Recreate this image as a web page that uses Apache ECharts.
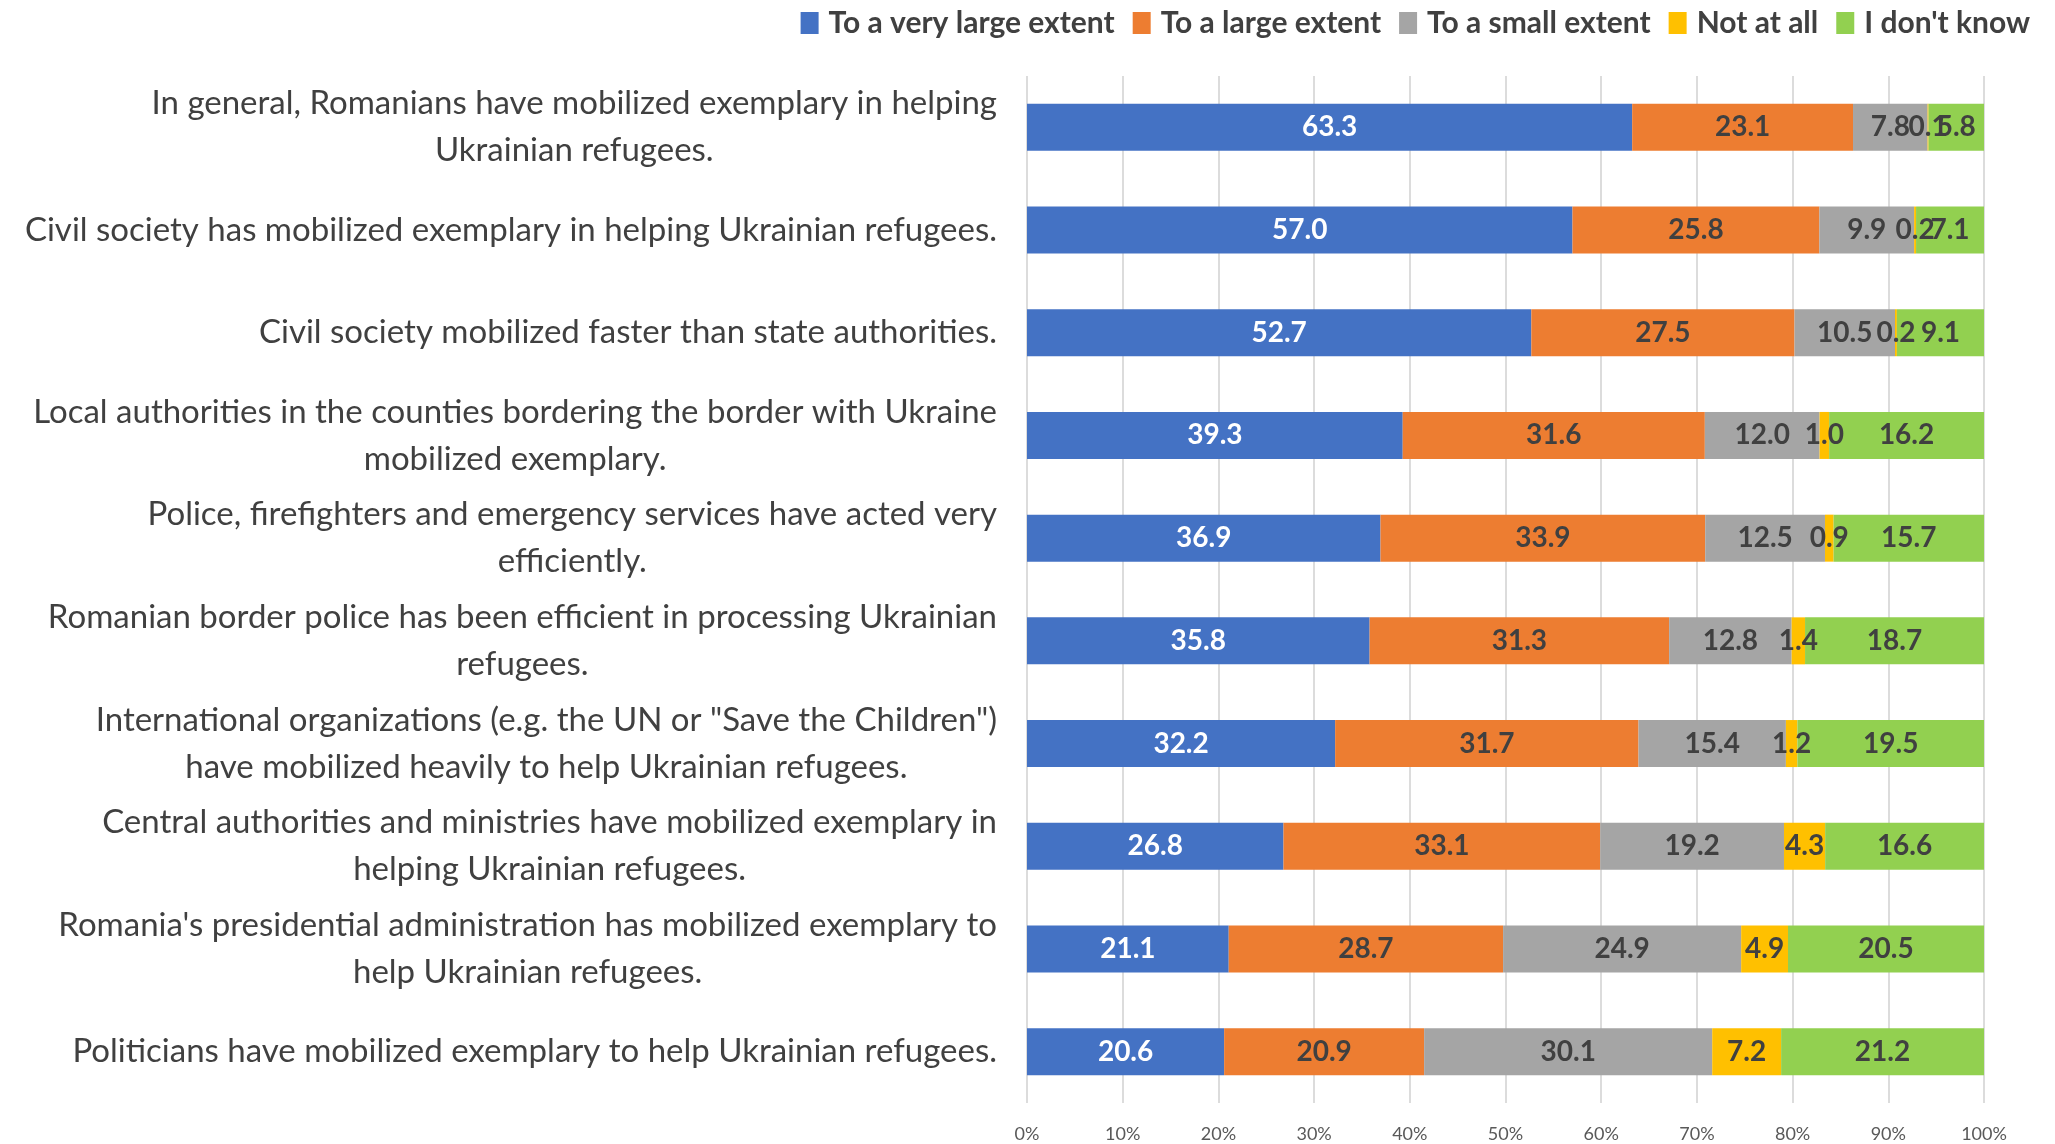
<!DOCTYPE html>
<html>
<head>
<meta charset="utf-8">
<script src="https://cdn.jsdelivr.net/npm/echarts@6/dist/echarts.min.js"></script>
<style>
  html, body { margin: 0; padding: 0; background: #ffffff; }
  #chart { width: 2055px; height: 1144px; }
</style>
</head>
<body>
<div id="chart"></div>
<script>
const categories = [
  "In general, Romanians have mobilized exemplary in helping\nUkrainian refugees.",
  "Civil society has mobilized exemplary in helping Ukrainian refugees.",
  "Civil society mobilized faster than state authorities.",
  "Local authorities in the counties bordering the border with Ukraine\nmobilized exemplary.",
  "Police, firefighters and emergency services have acted very\nefficiently.",
  "Romanian border police has been efficient in processing Ukrainian\nrefugees.",
  "International organizations (e.g. the UN or \"Save the Children\")\nhave mobilized heavily to help Ukrainian refugees.",
  "Central authorities and ministries have mobilized exemplary in\nhelping Ukrainian refugees.",
  "Romania's presidential administration has mobilized exemplary to\nhelp Ukrainian refugees.",
  "Politicians have mobilized exemplary to help Ukrainian refugees."
];
const seriesNames = ["To a very large extent", "To a large extent", "To a small extent", "Not at all", "I don't know"];
const veryLarge = [63.3, 57.0, 52.7, 39.3, 36.9, 35.8, 32.2, 26.8, 21.1, 20.6];
const large     = [23.1, 25.8, 27.5, 31.6, 33.9, 31.3, 31.7, 33.1, 28.7, 20.9];
const small     = [7.8, 9.9, 10.5, 12.0, 12.5, 12.8, 15.4, 19.2, 24.9, 30.1];
const notAtAll  = [0.1, 0.2, 0.2, 1.0, 0.9, 1.4, 1.2, 4.3, 4.9, 7.2];
const dontKnow  = [5.8, 7.1, 9.1, 16.2, 15.7, 18.7, 19.5, 16.6, 20.5, 21.2];
const xTicks = [0, 10, 20, 30, 40, 50, 60, 70, 80, 90, 100];

const colors = ["#4472C4", "#ED7D31", "#A5A5A5", "#FFC000", "#92D050"];
const allSeries = [veryLarge, large, small, notAtAll, dontKnow];
const totals = categories.map((c, i) => allSeries.reduce((s, arr) => s + arr[i], 0));

const FONT = "Lato, 'Noto Sans', sans-serif";

const chart = echarts.init(document.getElementById('chart'));
chart.setOption({
  animation: false,
  color: colors,
  textStyle: { fontFamily: FONT },
  legend: {
    top: 3,
    right: 20,
    itemWidth: 18,
    itemHeight: 22,
    itemGap: 18,
    icon: 'rect',
    textStyle: { fontFamily: FONT, fontSize: 30, fontWeight: 'bold', color: '#404040', padding: [0, 0, 0, 5] },
    data: seriesNames
  },
  grid: { left: 1027, right: 71, top: 76, bottom: 41, containLabel: false },
  xAxis: {
    type: 'value',
    min: xTicks[0],
    max: xTicks[xTicks.length - 1],
    interval: 10,
    axisLine: { show: false },
    axisTick: { show: false },
    splitLine: { show: true, lineStyle: { color: '#D0D0D0', width: 1.5 } },
    axisLabel: {
      margin: 22,
      fontFamily: FONT,
      fontSize: 18,
      color: '#595959',
      formatter: v => v + '%'
    }
  },
  yAxis: {
    type: 'category',
    inverse: true,
    data: categories,
    axisLine: { show: false },
    axisTick: { show: false },
    axisLabel: {
      margin: 30,
      align: 'right',
      color: '#404040',
      fontFamily: FONT,
      fontSize: 33,
      lineHeight: 47,
      formatter: v => v.split('\n').map(l => '{c|' + l + '}').join('\n'),
      rich: {
        c: { align: 'center', fontFamily: FONT, fontSize: 33, lineHeight: 47, color: '#404040' }
      }
    }
  },
  series: allSeries.map((arr, si) => ({
    name: seriesNames[si],
    type: 'bar',
    stack: 'total',
    barWidth: 47,
    itemStyle: { color: colors[si] },
    label: {
      show: true,
      position: 'inside',
      fontFamily: FONT,
      fontSize: 28,
      fontWeight: 'bold',
      color: si === 0 ? '#FFFFFF' : '#404040',
      formatter: p => arr[p.dataIndex].toFixed(1)
    },
    data: arr.map((v, i) => v / totals[i] * 100)
  }))
});
</script>
</body>
</html>
